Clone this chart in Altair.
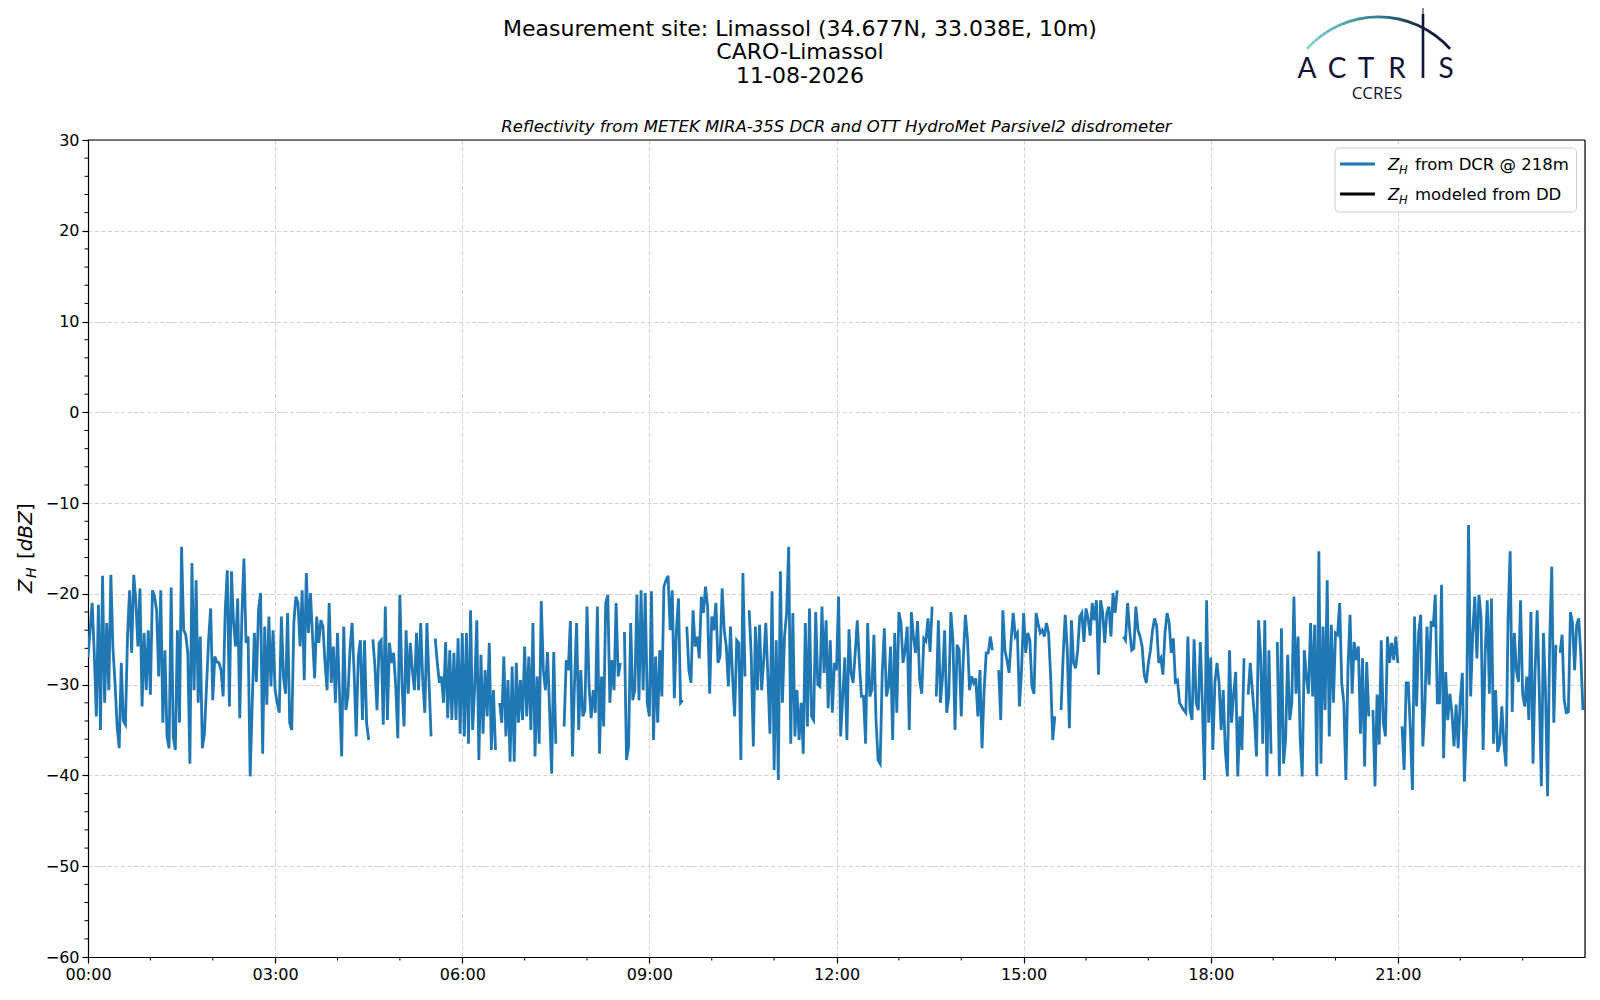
import altair as alt
import pandas as pd

# ---------------- data (Z_H from DCR @ 218m, dBZ, one value every 2 minutes; None = no data) -----
zh_00_04 = [
    -27, -24, -21, -26.5, -33.5, -21.2, -35, -18, -32, -23.2,
    -30.6, -17.9, -26, -29.8, -34.6, -37, -27.6, -34, -34.4, -24.7,
    -19.6, -26.5, -17.9, -20.8, -25.8, -19.4, -32.4, -24.3, -30.6, -24,
    -31.1, -19.6, -20.3, -21.8, -29.1, -19.6, -34.2, -26.2, -35.7, -37,
    -19.3, -35.7, -37.2, -24, -34.2, -14.8, -24, -24.5, -26.5, -38.7,
    -16.6, -30.6, -18.5, -32, -24.7, -37, -35.4, -30.2, -25.1, -21.6,
    -31.7, -26.9, -27.5, -27.6, -28.4, -31.3, -21.8, -17.4, -32.4, -17.5,
    -23.2, -25.8, -20.5, -33.7, -22.5, -16.1, -25.4, -24.7, -40.1, -32,
    -24.3, -29.7, -21.8, -19.9, -37.6, -23.6, -32.2, -22.5, -30.2, -24,
    -30.6, -32, -33.1, -22.5, -29.1, -31, -22.1, -34.2, -35, -23.2,
    -20.3, -21, -25.8, -19.6, -29.5, -17.7, -24.3, -19.9, -24.7, -29.3,
    -22.5, -25.4, -22.9, -23.6, -27.6, -30.6, -21, -29.8, -25.8, -32,
]
zh_04_08 = [
    -24.3, -31.3, -37.9, -23.6, -32.8, -31.3, -26.2, -23.2, -28.7, -35.7,
    -26.9, -25.1, -33.9, -25.1, -34.2, -36.1, None, -25, -28, -32.8,
    -25.4, -25.1, -34.4, -21.4, -33.9, -25.4, -27.6, -26.5, -30.2, -35.9,
    -20.1, -29.8, -34.6, -24, -31, -25.4, -28.4, -30.6, -24.3, -30.6,
    -23.2, -29.5, -33.1, -23.2, -29.5, -35.7, None, -24.9, -27.6, -29.8,
    -29.1, -32, -25.3, -33.7, -26.2, -33.9, -26.5, -33.9, -24.9, -35.4,
    -24.3, -35.7, -24.3, -36.5, -21.8, -35, -30.2, -22.9, -38.3, -26.7,
    -35.4, -28.4, -33.5, -25.4, -37.2, -30.6, -37.2, None, -32, -34.2,
    -26.9, -35.7, -29.5, -38.5, -28, -38.5, -27.6, -34.2, -29.5, -33.9,
    -25.8, -33.5, -26.9, -35, -23.2, -37.9, -29.1, -36.5, -20.8, -28.4,
    -30.6, -26.4, -32.8, -39.8, -26.4, -36.5, None, None, None, -34.6,
    -27.3, -28.4, -23, -37.9, -29.8, -23.2, -35, -28.4, -33.5, -32.8,
]
zh_08_12 = [
    -21.4, -30.2, -33.7, -30.6, -33.1, -21.4, -37.6, -29.1, -34.6, -21,
    -20.1, -32, -27.3, -30.6, -21, -29.1, -27.6, None, -24.2, -38.3,
    -36.8, -23.2, -31.7, -30.6, -20.1, -31.7, -19.6, -30.6, -19.9, -32,
    -33.5, -19.7, -36.1, -26.9, -34.2, -26.2, -31.3, -19.2, -18.5, -18,
    -24, -19.6, -31.5, -24, -20.5, -32, -31.7, None, -23.6, -28.4,
    -29.8, -21.8, -25.8, -24.7, -27.1, -20.3, -22.1, -19.2, -21.4, -31,
    -22.5, -24, -21, -27.6, -26.9, -19.4, -24, -25.8, -30.2, -23.6,
    -29.1, -33.5, -25.1, -25.4, -38.3, -17.7, -29.1, None, -21.8, -26.9,
    -36.8, -23.6, -30.6, -23.4, -30.6, -27.3, -23.2, -29.1, -35.4, -19.7,
    -39.4, -25.1, -40.5, -17.5, -32, -24.7, -22.1, -14.8, -36.5, -22.1,
    -35.7, -30.6, -36.1, -32, -37.6, -23.2, -34.6, -21.6, -33.5, -33.9,
    -22, -30, -30.2, -21.4, -28.7, -22.9, -32.6, -25.1, -33.1, -27.6,
]
zh_12_16 = [
    -28.4, -20.3, -35.7, -31.3, -27, -36.1, -23.9, -28.7, -29.8, -26.5,
    -22.9, -27.6, -31.3, -31.3, -36.5, -23.2, -31.3, -30.6, -24.5, -33.9,
    -38.3, -38.7, -28.7, -23.8, -31.3, -30.2, -25.8, -36.1, -24.3, -33.1,
    -22, -23.2, -27.6, -26.2, -23.6, -35, -22, -24.7, -26.5, -23,
    -29.5, -31, -24.9, -25.2, -22.7, -26.4, -21.4, None, -31.3, -22.9,
    -32, -29.1, -24, -33.1, -31.3, -22, -25.1, -35, -25.6, -26.2,
    -33.5, -27, -22.3, -25, -30.6, -29.1, -29.8, -29.3, -33.5, -28.4,
    -37, -30.6, -26.5, -26.5, -24.7, -26.2, None, None, -28.4, -33.9,
    -21.8, -26.2, -27.3, -28.7, -25.1, -22.1, -24.7, -24.3, -32.4, -28.4,
    -22.1, -26.5, -24.3, -25.1, -30.2, -31, -22.1, -23.3, -24.3, -24,
    -24.7, -23.2, -24.3, -29.1, -36.1, -33.5, None, None, -32.8, -26.9,
    -22.3, -26.2, -34.8, -22.9, -27.6, -28.2, -26.2, -22.5, -22.1, -25.3,
]
zh_16_20 = [
    -21.6, -22.7, -24.6, -21, -22.9, -20.7, -28.9, -20.7, -22, -25.4,
    -22.1, -21.4, -24.7, -19.9, -22.1, -19.6, None, None, -24.7, -25.1,
    -21, -24, -26.2, -26, -21.4, -24, -24.7, -25.8, -28.9, -29.8,
    -27.6, -26.2, -24, -22.7, -23.6, -27.6, -27.1, -28.9, -24.3, -22.1,
    -23.2, -26.5, -24.9, -29.7, -29.5, -32, -32.4, -32.8, -33.1, -24.7,
    -32.8, -33.9, -25, -32, -32.8, -25.3, -32.4, -40.5, -20.7, -34.2,
    -27, -37.2, -29.8, -27.6, -29.8, -35, -30.6, -37.2, -40.1, -26.2,
    -34.2, -31, -28.6, -40.1, -33.5, -37.2, -27.1, None, -31.1, -27.6,
    -30.6, -33.5, -37.9, -22.9, -26.9, -36.5, -22.9, -40.1, -26.2, -37.6,
    None, None, -25.3, -40.1, -23.8, -38.7, -36.1, -26.7, -33.9, -32,
    -20.3, -31, -24.7, -35.9, -40.1, -26.2, -29.1, -31, -23.2, -31.3,
    -23.4, -40.1, -15.3, -38.7, -23.6, -32.8, -18.5, -35.7, -23.4, -32,
]
zh_20_24 = [
    -24.3, -24.5, -21, -29.8, -32, -40.5, -28.2, -22.3, -31, -25.3,
    -27.3, -25.8, -35.4, -27.1, -39, -27.5, -33.5, None, -32.8, -41.2,
    -31.1, -36.6, -25.1, -34.2, -35.7, -24.7, -27.6, -25.4, -27.3, -24.7,
    -27.6, None, -34.6, -39.4, -29.8, -29.8, -35, -41.6, -22.5, -32.4,
    -24.3, -22.3, -36.8, -32.4, -23.6, -30, -23, -23.6, -20.1, -32,
    -32, -19, -38.1, -28.6, -33.9, -31, -33.1, -36.8, -32.2, -37,
    -31.7, -28.7, -40.7, -34.4, -12.4, -31.3, -24.3, -20.3, -27.1, -20.1,
    -22.5, -37.2, -26.5, -20.7, -31, -20.5, -36.5, -30.6, -37.4, -36.5,
    -32.4, -36.5, -39, -22.9, -15.3, -33, -24.3, -28.4, -29.7, -20.7,
    -31, -32.4, -29.1, -33.9, -22, -38.7, -28.4, -21.8, -30.6, -41.2,
    -24.3, -30.6, -42.3, -25.4, -17, -34.2, -25.6, None, -26.5, -24.5,
    -31.7, -33.1, -33, -22, -23.2, -28.4, -23.4, -22.7, -26.9, -32.8,
]
STEP_MIN = 2

X_TICKS = [0, 3, 6, 9, 12, 15, 18, 21]
X_MINOR = [h for h in range(1, 24) if h % 3]
Y_TICKS = list(range(-60, 31, 10))
Y_MINOR = [v for v in range(-58, 30, 2) if v % 10]

TITLE_1 = "Measurement site: Limassol (34.677N, 33.038E, 10m)"
TITLE_2 = "CARO-Limassol"
TITLE_3 = "11-08-2026"
SUBTITLE = "Reflectivity from METEK MIRA-35S DCR and OTT HydroMet Parsivel2 disdrometer"
LEG_1 = "from DCR @ 218m"
LEG_2 = "modeled from DD"

# ---------------- build table ----------------
values = zh_00_04 + zh_04_08 + zh_08_12 + zh_12_16 + zh_16_20 + zh_20_24
rows = []
seg = 0
for i, v in enumerate(values):
    if v is None:
        seg += 1
        continue
    rows.append({"hour": i * STEP_MIN / 60.0, "zh": v, "seg": seg})
df = pd.DataFrame(rows)

W, H = 1497, 817
BLUE = "#1f77b4"
NAVY = "#111238"
FONT = "DejaVu Sans"

xs = alt.Scale(domain=[0, 24], nice=False, zero=False)
ys = alt.Scale(domain=[-60, 30], nice=False, zero=False)

axis_common = dict(
    grid=True, gridColor="#d2d2d2", gridDash=[4, 2.5], gridWidth=1,
    domainColor="black", domainWidth=1.2, tickColor="black", tickWidth=1.2,
    tickSize=6, labelFont=FONT, labelFontSize=16, labelColor="black", title=None,
    labelFlush=False, labelOverlap=False,
)

line = alt.Chart(df).mark_line(color=BLUE, strokeWidth=2.8, clip=True).encode(
    x=alt.X("hour:Q", scale=xs, axis=alt.Axis(
        values=X_TICKS, labelPadding=3.5, orient="bottom",
        labelExpr="(datum.value < 10 ? '0' : '') + datum.value + ':00'", **axis_common)),
    y=alt.Y("zh:Q", scale=ys, axis=alt.Axis(values=Y_TICKS, labelPadding=3, orient="left",
                                            **axis_common)),
    detail="seg:N",
)

y_minor = alt.Chart(pd.DataFrame({"v": Y_MINOR})).mark_rule(color="black", strokeWidth=1).encode(
    y=alt.Y("v:Q", scale=ys, axis=None), x=alt.value(0), x2=alt.value(-3.5))
x_minor = alt.Chart(pd.DataFrame({"h": X_MINOR})).mark_rule(color="black", strokeWidth=1).encode(
    x=alt.X("h:Q", scale=xs, axis=None), y=alt.value(H), y2=alt.value(H + 3.5))

one = pd.DataFrame({"a": [0]})
spine_top = alt.Chart(one).mark_rule(color="black", strokeWidth=1.2).encode(
    x=alt.value(0), x2=alt.value(W), y=alt.value(0))
spine_right = alt.Chart(one).mark_rule(color="black", strokeWidth=1.2).encode(
    x=alt.value(W), y=alt.value(0), y2=alt.value(H))


def label(text, x, y, size, italic=False, align="left", angle=0, color="black",
          font=FONT, baseline="alphabetic"):
    kw = dict(align=align, baseline=baseline, fontSize=size, font=font, color=color,
              fontStyle="italic" if italic else "normal")
    if angle:
        kw["angle"] = angle
    return alt.Chart(pd.DataFrame({"t": [text]})).mark_text(**kw).encode(
        x=alt.value(x), y=alt.value(y), text="t:N")


texts = [
    label(TITLE_1, 712, -104, 22, align="center"),
    label(TITLE_2, 712, -81, 22, align="center"),
    label(TITLE_3, 712, -57.5, 22, align="center"),
    label(SUBTITLE, 748.5, -8, 16.5, italic=True, align="center"),
    # y-axis title  Z_H [dBZ]
    label("Z", -56, 453, 20, italic=True, angle=270),
    label("H", -52.5, 438, 14, italic=True, angle=270),
    label("[", -56, 419, 20, angle=270),
    label("dBZ", -56, 411.2, 20, italic=True, angle=270),
    label("]", -56, 371.1, 20, angle=270),
]

# legend
leg_box = alt.Chart(one).mark_rect(fill="white", fillOpacity=0.85, stroke="#cccccc",
                                   strokeWidth=1, cornerRadius=4).encode(
    x=alt.value(1247), x2=alt.value(1488.5), y=alt.value(8), y2=alt.value(72))
leg_l1 = alt.Chart(one).mark_rule(color=BLUE, strokeWidth=2.8).encode(
    x=alt.value(1252), x2=alt.value(1287), y=alt.value(24))
leg_l2 = alt.Chart(one).mark_rule(color="black", strokeWidth=2.8).encode(
    x=alt.value(1252), x2=alt.value(1287), y=alt.value(54))
legend = [
    leg_box, leg_l1, leg_l2,
    label("Z", 1300, 30, 16.5, italic=True), label("H", 1311, 33.5, 11.5, italic=True),
    label(LEG_1, 1327, 30, 16.5),
    label("Z", 1300, 60, 16.5, italic=True), label("H", 1311, 63.5, 11.5, italic=True),
    label(LEG_2, 1327, 60, 16.5),
]

# ACTRIS / CCRES logo
grad = alt.Gradient(gradient="linear", x1=0, x2=1, y1=0, y2=0, stops=[
    alt.GradientStop(offset=0, color="#8fd6cd"),
    alt.GradientStop(offset=0.5, color="#2f7f92"),
    alt.GradientStop(offset=0.8, color="#14244a"),
    alt.GradientStop(offset=1, color=NAVY),
])
arc = alt.Chart(one).mark_arc(fill=grad, radius=97.5, radius2=94.6, theta=5.442, theta2=7.124).encode(
    x=alt.value(1290.5), y=alt.value(-27.1))
i_bar = alt.Chart(one).mark_rule(color=NAVY, strokeWidth=2.6).encode(
    x=alt.value(1335), y=alt.value(-126), y2=alt.value(-62))
i_top = alt.Chart(one).mark_rule(color="#8a8aa6", strokeWidth=2).encode(
    x=alt.value(1335), y=alt.value(-138), y2=alt.value(-126))
logo = [arc, i_bar, i_top]
for ch, cx in [("A", 1219), ("C", 1249), ("T", 1278), ("R", 1309), ("S", 1358)]:
    logo.append(label(ch, cx, -62, 28, align="center", color=NAVY, font="Lato"))
logo.append(label("CCRES", 1289, -41, 17, align="center", color=NAVY, font="Open Sans"))

chart = alt.layer(line, y_minor, x_minor, spine_top, spine_right, *texts, *legend, *logo).resolve_axis(
    x="independent", y="independent"
).properties(
    width=W, height=H,
    padding={"left": 80, "top": 132, "right": 5, "bottom": 32},
    autosize=alt.AutoSizeParams(type="none"),
    background="white",
).configure_view(stroke="black", strokeWidth=1.2).configure(font=FONT)

chart.save("out.html", embed_options={"renderer": "svg", "actions": False})
